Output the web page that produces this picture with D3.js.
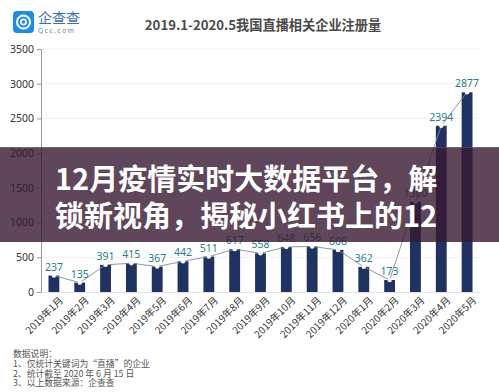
<!DOCTYPE html>
<html><head><meta charset="utf-8">
<script src="https://cdn.jsdelivr.net/npm/d3@7"></script>
<style>
html,body{margin:0;padding:0;background:#fff;}
svg{display:block;font-family:"Noto Sans","Noto Sans CJK SC",sans-serif;}
</style></head>
<body>
<script>
const months = ["2019年1月","2019年2月","2019年3月","2019年4月","2019年5月","2019年6月","2019年7月","2019年8月","2019年9月","2019年10月","2019年11月","2019年12月","2020年1月","2020年2月","2020年3月","2020年4月","2020年5月"];
const registrations = [237,135,391,415,367,442,511,617,558,648,656,606,362,173,1300,2394,2877];
const yTicks = [0,500,1000,1500,2000,2500,3000,3500];
const chartTitle = "2019.1-2020.5我国直播相关企业注册量";
const notes = ["数据说明：","1、仅统计关键词为\u201c直播\u201d的企业","2、统计截至 2020 年 6 月 15 日","3、以上数据来源：企查查"];
const overlayLines = ["12月疫情实时大数据平台，解","锁新视角，揭秘小红书上的12"];

const W = 499, H = 392;
const svg = d3.select("body").append("svg").attr("width", W).attr("height", H);

// header
const logo = svg.append("g");
logo.append("rect").attr("x",13).attr("y",11).attr("width",21).attr("height",22).attr("rx",4).attr("fill","#1e8de0");
logo.append("circle").attr("cx",23.5).attr("cy",22).attr("r",6.5).attr("fill","none").attr("stroke","#fff").attr("stroke-width",2);
logo.append("circle").attr("cx",23.5).attr("cy",22).attr("r",2.6).attr("fill","none").attr("stroke","#fff").attr("stroke-width",1.6);
logo.append("text").attr("x",38).attr("y",23).attr("font-size",14).attr("fill","#3a6fb0").attr("font-family","Noto Sans CJK SC").text("企查查");
logo.append("text").attr("x",38).attr("y",33).attr("font-size",6.5).attr("letter-spacing",1.6).attr("fill","#5a7ea6").text("Qcc.com");
svg.append("text").attr("x",263).attr("y",30).attr("text-anchor","middle").attr("font-size",13.2).attr("font-weight","bold").attr("fill","#4a4a4a").attr("font-family","Noto Sans CJK SC").text(chartTitle);

const m = {left:41, right:480, top:49, bottom:292};
const x = d3.scaleBand().domain(months).range([m.left, m.right]).paddingInner(0.58).paddingOuter(0.29);
const y = d3.scaleLinear().domain([0,3500]).range([m.bottom, m.top]);

// gridlines
svg.append("g").selectAll("line").data(yTicks.filter(d=>d>0)).join("line")
  .attr("x1",m.left).attr("x2",m.right).attr("y1",d=>y(d)).attr("y2",d=>y(d))
  .attr("stroke","#f0f0f0").attr("stroke-width",1);

// y axis
const ya = svg.append("g").attr("transform",`translate(${m.left},0)`)
  .call(d3.axisLeft(y).tickValues(yTicks).tickFormat(d3.format("d")).tickSize(4).tickPadding(3));
ya.select(".domain").attr("stroke","#999");
ya.selectAll(".tick line").attr("stroke","#999");
ya.selectAll("text").attr("font-size",10.5).attr("fill","#333").attr("font-family","Noto Sans");

// x axis
const xa = svg.append("g").attr("transform",`translate(0,${m.bottom})`)
  .call(d3.axisBottom(x).tickSize(0).tickPadding(4));
xa.select(".domain").attr("stroke","#e3e3e3");
xa.selectAll("text").attr("font-size",10).attr("fill","#333").attr("font-family","Noto Sans CJK SC")
  .attr("text-anchor","end").attr("dy","0.3em").attr("transform","translate(5,4) rotate(-45)");

// bars
svg.append("g").selectAll("rect").data(registrations).join("rect")
  .attr("x",(d,i)=>x(months[i])).attr("width",x.bandwidth())
  .attr("y",d=>y(d)).attr("height",d=>m.bottom-y(d)).attr("fill","#1f3262");

// line
const line = d3.line().x((d,i)=>x(months[i])+x.bandwidth()/2).y(d=>y(d));
svg.append("path").datum(registrations).attr("d",line).attr("fill","none").attr("stroke","#7f8b9a").attr("stroke-width",0.9);
svg.append("g").selectAll("circle").data(registrations).join("circle")
  .attr("cx",(d,i)=>x(months[i])+x.bandwidth()/2).attr("cy",d=>y(d)).attr("r",2.2).attr("fill","#fff");

// value labels
svg.append("g").selectAll("text").data(registrations).join("text")
  .attr("x",(d,i)=>x(months[i])+x.bandwidth()/2).attr("y",d=>y(d)-5)
  .attr("text-anchor","middle").attr("font-size",10.5).attr("fill","#2b7d86").attr("font-family","Noto Sans")
  .text(d=>d);

// notes
svg.append("g").selectAll("text").data(notes).join("text")
  .attr("x",13).attr("y",(d,i)=>357+i*9.8).attr("font-size",8.8).attr("fill","#555").attr("font-family","Noto Sans CJK SC")
  .text(d=>d);

// overlay band
svg.append("rect").attr("x",0).attr("y",147).attr("width",W).attr("height",95).attr("fill","rgba(55,24,49,0.8)");
svg.append("line").attr("x1",0).attr("x2",W).attr("y1",147.5).attr("y2",147.5).attr("stroke","rgba(255,255,255,0.15)");
svg.append("g").selectAll("text").data(overlayLines).join("text")
  .attr("x",55).attr("y",(d,i)=>190+i*37).attr("font-size",29).attr("font-weight","bold").attr("fill","#fff")
  .attr("font-family","Noto Sans CJK SC").text(d=>d);
</script>
</body></html>
